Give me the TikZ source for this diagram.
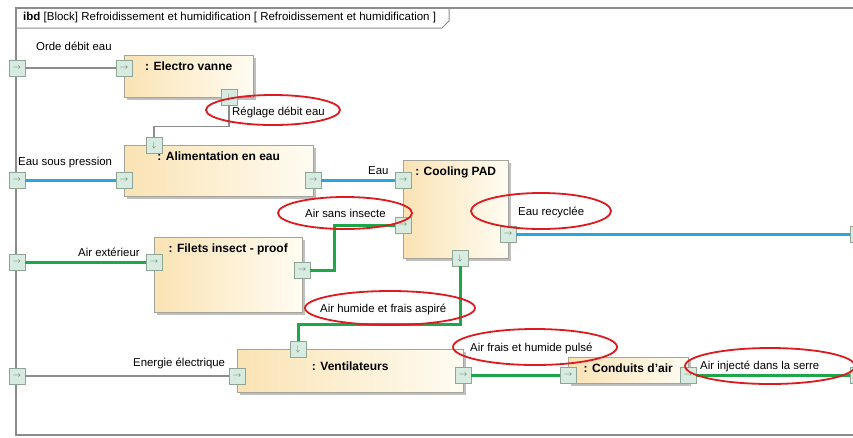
\documentclass[tikz,border=0pt]{standalone}
\usepackage{fontspec}
\setmainfont{Liberation Sans}
\usetikzlibrary{shadows}

\definecolor{frameline}{HTML}{8C8C8C}
\definecolor{blockline}{HTML}{A5A39A}
\definecolor{blockleft}{HTML}{FAE3B4}
\definecolor{blockright}{HTML}{FFFCF2}
\definecolor{portfill}{HTML}{D7EBE0}
\definecolor{portline}{HTML}{8FA596}
\definecolor{portarrow}{HTML}{4E7A62}
\definecolor{waterblue}{HTML}{2AA5DE}
\definecolor{airgreen}{HTML}{1EA64A}
\definecolor{ringred}{HTML}{DD1A1F}

\tikzset{
  block/.style={draw=blockline, left color=blockleft, right color=blockright,
    anchor=north west, inner sep=0pt,
    drop shadow={shadow xshift=2.5pt, shadow yshift=-2.5pt, fill=black!25, opacity=1}},
  title/.style={anchor=north, yshift=-3pt, font=\fontsize{12}{13}\selectfont\bfseries},
  port/.style={draw=portline, fill=portfill, minimum size=16pt, inner sep=0pt,
    text=portarrow, font=\fontsize{8}{8}\selectfont},
  lbl/.style={anchor=west, inner sep=1pt, font=\fontsize{11.4}{12}\selectfont},
  wire/.style={draw=frameline, line width=1.2pt},
  water/.style={draw=waterblue, line width=3pt},
  air/.style={draw=airgreen, line width=3pt},
  hilite/.style={draw=ringred, line width=1.8pt}
}

\begin{document}
\begin{tikzpicture}[x=1pt, y=-1pt]
  \clip (0,0) rectangle (853,437);
  \fill[white] (0,0) rectangle (853,437);

  % frame and header
  \draw[frameline, line width=1.2pt] (16,8) rectangle (858,435);
  \draw[frameline, line width=1pt] (16,28) -- (442,28) -- (449,21) -- (449,8);
  \node[anchor=west, inner sep=0pt, font=\fontsize{11.5}{12}\selectfont] (hdr) at (23,18)
    {\textbf{ibd} [Block] Refroidissement et humidification [ Refroidissement et humidification ]};

  % blocks
  \node[block, minimum width=129pt, minimum height=42pt, label={[title]north:{: Electro vanne}}] (ev) at (124,55) {};
  \node[block, minimum width=189pt, minimum height=51pt, label={[title]north:{: Alimentation en eau}}] (al) at (124,145) {};
  \node[block, minimum width=105pt, minimum height=98pt, label={[title]north:{: Cooling PAD}}] (cp) at (403,160) {};
  \node[block, minimum width=148pt, minimum height=75pt, label={[title]north:{: Filets insect - proof}}] (fi) at (154,237) {};
  \node[block, minimum width=226pt, minimum height=43pt, label={[title, yshift=-6pt]north:{: Ventilateurs}}] (ve) at (237,349) {};
  \node[block, minimum width=120pt, minimum height=26pt, label={[title]north:{: Conduits d'air}}] (co) at (568,357) {};

  % ports
  \foreach \n/\x/\y in {fOrde/17/68, evIn/124/68, fEau/17/180, alIn/124/180, alOut/313/180,
      cpIn/403/180, cpIn2/403/225, cpOut/508/234, fAir/17/262, fiIn/154/262,
      fiOut/302/270, fEn/17/376, veIn/237/376, veOut/463/375, coIn/568/375, coOut/688/375}
    \node[port] (\n) at (\x,\y) {$\rightarrow$};
  \foreach \n/\x/\y in {evOut/229/97, alTop/154/145, cpBot/460/258, veTop/298/349}
    \node[port] (\n) at (\x,\y) {$\downarrow$};
  \foreach \n/\y in {fRec/234, fInj/375}
    \node[port] (\n) at (858,\y) {};

  % connectors
  \draw[wire] (fOrde) -- (evIn);
  \draw[wire] (evOut.south) -- ++(0,21) -| (alTop.north);
  \draw[wire] (fEn) -- (veIn);
  \draw[water] (fEau) -- (alIn);
  \draw[water] (alOut) -- (cpIn);
  \draw[water] (cpOut) -- (fRec);
  \draw[air] (fAir) -- (fiIn);
  \draw[air] (fiOut.east) -- ++(24,0) |- (cpIn2.west);
  \draw[air] (cpBot.south) -- ++(0,58) -| (veTop.north);
  \draw[air] (veOut) -- (coIn);
  \draw[air] (coOut) -- (fInj);

  % flow labels
  \node[lbl] (lOrde) at (35,46) {Orde débit eau};
  \node[lbl] (lReg) at (231,112) {Réglage débit eau};
  \node[lbl] (lEauP) at (17,163) {Eau sous pression};
  \node[lbl] (lEau) at (367,171) {Eau};
  \node[lbl] (lSans) at (304,213) {Air sans insecte};
  \node[lbl] (lRec) at (517,212) {Eau recyclée};
  \node[lbl] (lExt) at (77,252) {Air extérieur};
  \node[lbl] (lAsp) at (319,309) {Air humide et frais aspiré};
  \node[lbl] (lEn) at (132,363) {Energie électrique};
  \node[lbl] (lPul) at (469,348) {Air frais et humide pulsé};
  \node[lbl] (lInj) at (699,366) {Air injecté dans la serre};

  % red rings
  \draw[hilite] (273,110) ellipse (67 and 15);
  \draw[hilite] (345,213) ellipse (67 and 16);
  \draw[hilite] (541,211) ellipse (70 and 18);
  \draw[hilite] (390,308) ellipse (85 and 17);
  \draw[hilite] (535,347) ellipse (82 and 18);
  \draw[hilite] (770,366) ellipse (85 and 18);
\end{tikzpicture}
\end{document}
